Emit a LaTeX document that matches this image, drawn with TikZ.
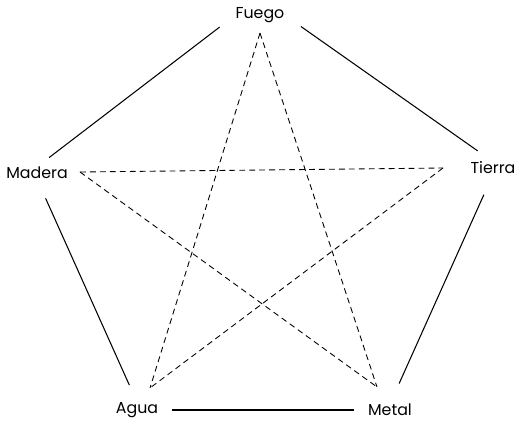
\documentclass[tikz,border=0pt]{standalone}
\usepackage{fontspec}
\setmainfont{Poppins}
\usepackage{tikz}
\usetikzlibrary{calc}

\begin{document}
\begin{tikzpicture}[
    x=0.03cm, y=-0.03cm,
    elem/.style={font=\fontsize{13.5}{16}\selectfont, inner sep=0pt},
    gen/.style={line width=0.9pt},
    ctrl/.style={line width=0.75pt, dash pattern=on 5pt off 3.5pt},
]
\useasboundingbox (0,0) rectangle (515,424);
\node[elem] (fuego) at (260,15) {Fuego};
\node[elem] (tierra) at (493,168) {Tierra};
\node[elem] (metal) at (390,410) {Metal};
\node[elem] (agua) at (137,410) {Agua};
\node[elem] (madera) at (37,173) {Madera};

% star points
\coordinate (fuego-p) at (260,33);
\coordinate (tierra-p) at (443,168);
\coordinate (metal-p) at (377,387);
\coordinate (agua-p) at (150,388);
\coordinate (madera-p) at (80,172);

\draw[gen, shorten <=17pt, shorten >=13pt] (fuego.west) -- (madera.north);
\draw[gen, shorten <=17pt, shorten >=16pt] (fuego.east) -- (tierra.north);
\draw[gen, shorten <=19pt, shorten >=19pt] (tierra.south) -- (metal.north);
\draw[gen, shorten <=18pt, shorten >=16pt] (madera.south) -- (agua.north);
\draw[gen, shorten <=12pt, shorten >=12pt] (agua.east) -- (metal.west);

\draw[ctrl] (fuego-p) -- (agua-p);
\draw[ctrl] (fuego-p) -- (metal-p);
\draw[ctrl] (madera-p) -- (tierra-p);
\draw[ctrl] (madera-p) -- (metal-p);
\draw[ctrl] (tierra-p) -- (agua-p);
\end{tikzpicture}
\end{document}
